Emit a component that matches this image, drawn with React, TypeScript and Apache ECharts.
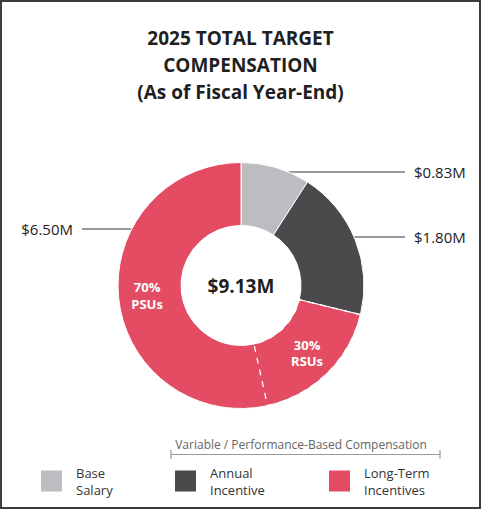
import React, { useEffect, useRef } from "react";
import * as echarts from "echarts";

const titleLines = ["2025 TOTAL TARGET", "COMPENSATION", "(As of Fiscal Year-End)"];
const sliceNames = ["Base Salary", "Annual Incentive", "Long-Term Incentives"];
const sliceValues = [0.83, 1.8, 6.5];
const sliceColors = ["#bcbdc1", "#4a4a4c", "#e34c62"];
const totalLabel = "$9.13M";
const ltiParts = ["RSUs", "PSUs"];
const ltiShares = ["30%", "70%"];
const ltiValues = [1.62, 4.88];
const bracketLabel = "Variable / Performance-Based Compensation";

const FONT = "'Open Sans', 'Liberation Sans', sans-serif";
const CX = 241;
const CY = 285.5;
const R_IN = 60;
const R_OUT = 123;

// where the leader line of each outside label sits
const labelSpots = [
  { side: "right", y: 172 },
  { side: "right", y: 237 },
  { side: "left", y: 229 },
];

const App = () => {
  const chartRef = useRef<HTMLDivElement>(null);

  useEffect(() => {
    document.body.style.margin = "0";
    const chart = echarts.init(chartRef.current, null, { renderer: "svg" });

    const legendAt = (name: string, left: number) => ({
      data: [name],
      left,
      top: 464,
      padding: 0,
      orient: "horizontal",
      icon: "rect",
      itemWidth: 21,
      itemHeight: 21,
      selectedMode: false,
      itemStyle: { borderWidth: 0 },
      formatter: (n: string) => n.replace(" ", "\n"),
      textStyle: {
        fontFamily: FONT,
        fontSize: 13,
        lineHeight: 17,
        color: "#333",
        padding: [0, 0, 0, 9],
      },
    });

    chart.setOption({
      animation: false,
      backgroundColor: "#fff",
      title: {
        text: titleLines.join("\n"),
        left: "center",
        top: 24.5,
        padding: 0,
        textStyle: {
          fontFamily: FONT,
          fontSize: 19,
          fontWeight: "bold",
          color: "#1f1f1f",
          lineHeight: 27,
        },
      },
      legend: [
        legendAt(sliceNames[0], 41),
        legendAt(sliceNames[1], 175),
        legendAt(sliceNames[2], 329),
      ],
      graphic: [
        {
          type: "rect",
          shape: { x: 1, y: 1, width: 479, height: 507 },
          style: { fill: "none", stroke: "#3c3c3c", lineWidth: 2 },
          silent: true,
        },
        {
          type: "text",
          x: CX,
          y: 286,
          style: {
            text: totalLabel,
            align: "center",
            verticalAlign: "middle",
            fontFamily: FONT,
            fontSize: 19,
            fontWeight: "bold",
            fill: "#1f1f1f",
          },
        },
        {
          type: "text",
          x: 301,
          y: 444,
          style: {
            text: bracketLabel,
            align: "center",
            verticalAlign: "middle",
            fontFamily: FONT,
            fontSize: 12,
            fill: "#666",
          },
        },
        {
          type: "polyline",
          shape: { points: [[171, 454.5], [440, 454.5]] },
          style: { stroke: "#9a9a9a", lineWidth: 1.2 },
        },
        {
          type: "line",
          shape: { x1: 171, y1: 450, x2: 171, y2: 459 },
          style: { stroke: "#9a9a9a", lineWidth: 1.2 },
        },
        {
          type: "line",
          shape: { x1: 440, y1: 450, x2: 440, y2: 459 },
          style: { stroke: "#9a9a9a", lineWidth: 1.2 },
        },
      ],
      series: [
        {
          type: "pie",
          center: [CX, CY],
          radius: [R_IN, R_OUT],
          startAngle: 90,
          avoidLabelOverlap: false,
          silent: true,
          itemStyle: { borderColor: "#fff", borderWidth: 1 },
          data: sliceNames.map((name, i) => ({
            name,
            value: sliceValues[i],
            itemStyle: { color: sliceColors[i] },
          })),
          label: {
            show: true,
            position: "outside",
            formatter: (p: any) => `$${p.value.toFixed(2)}M`,
            fontFamily: FONT,
            fontSize: 15,
            color: "#222",
          },
          labelLine: {
            show: true,
            length: 0,
            length2: 0,
            lineStyle: { color: "#333", width: 1 },
          },
          labelLayout: (p: any) => {
            const spot = labelSpots[p.dataIndex];
            const dy = spot.y - CY;
            const dx = Math.sqrt(R_OUT * R_OUT - dy * dy);
            const right = spot.side === "right";
            const start = right ? CX + dx : CX - dx;
            const end = right ? 405 : 82;
            return {
              x: right ? 414 : 73,
              y: spot.y,
              align: right ? "left" : "right",
              verticalAlign: "middle",
              labelLinePoints: [
                [start, spot.y],
                [end, spot.y],
                [end, spot.y],
              ],
            };
          },
        },
        {
          // long-term incentive split: dashed divider and inside labels
          type: "pie",
          center: [CX, CY],
          radius: [R_IN, R_OUT],
          startAngle: 90,
          silent: true,
          avoidLabelOverlap: false,
          labelLine: { show: false },
          data: [
            {
              name: "overlay-base",
              value: sliceValues[0],
              itemStyle: { color: "rgba(0,0,0,0)", borderWidth: 0 },
              label: { show: false },
            },
            {
              name: "overlay-annual",
              value: sliceValues[1],
              itemStyle: { color: "rgba(0,0,0,0)", borderWidth: 0 },
              label: { show: false },
            },
            ...ltiParts.map((name, i) => ({
              name,
              value: ltiValues[i],
              share: ltiShares[i],
              itemStyle:
                i === 0
                  ? {
                      color: "rgba(0,0,0,0)",
                      borderColor: "#fff",
                      borderWidth: 1.3,
                      borderType: [6, 6],
                    }
                  : { color: "rgba(0,0,0,0)", borderWidth: 0 },
            })),
          ],
          label: {
            show: true,
            position: "inside",
            formatter: (p: any) => `${p.data.share}\n${p.name}`,
            fontFamily: FONT,
            fontSize: 13,
            fontWeight: "bold",
            lineHeight: 16.5,
            color: "#fff",
          },
        },
      ],
    });

    return () => {
      chart.dispose();
    };
  }, []);

  return <div ref={chartRef} style={{ width: "481px", height: "509px" }}></div>;
};

export default App;
